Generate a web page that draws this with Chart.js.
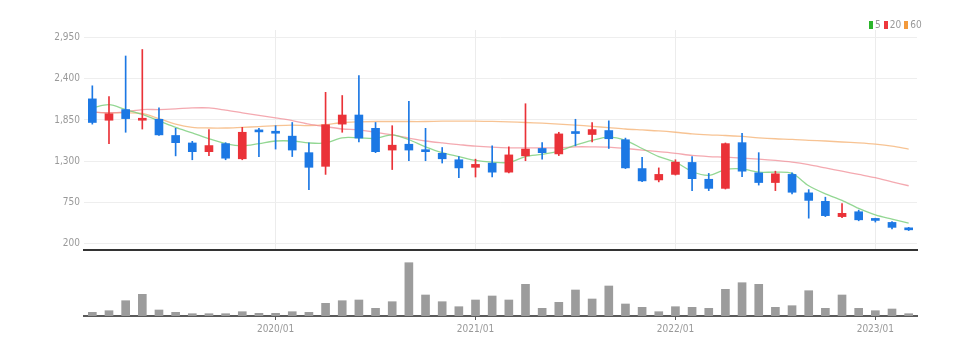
<!DOCTYPE html>
<html>
<head>
<meta charset="utf-8">
<script src="https://cdn.jsdelivr.net/npm/chart.js@4.4.1/dist/chart.umd.min.js"></script>
<style>
	body { margin: 0; background: #fff; }
	#wrap { position: relative; width: 980px; height: 355px; overflow: hidden; }
	#wrap canvas { position: absolute; left: 0; }
	#legend {
		position: absolute; left: 869px; top: 19px;
		display: flex; align-items: center;
		font: 10px 'Liberation Sans Narrow', 'DejaVu Sans Condensed', sans-serif; color: #999;
	}
	#legend i { display: inline-block; width: 4px; height: 8px; margin-right: 2px; }
	#legend span { margin-right: 3px; }
</style>
</head>
<body>
<div id="wrap">
	<canvas id="priceChart" width="980" height="260" style="top:0"></canvas>
	<canvas id="volumeChart" width="980" height="99" style="top:256px"></canvas>
	<div id="legend"></div>
</div>
<script>
'use strict';

// monthly candles
const labels = [
	'2019/02', '2019/03', '2019/04', '2019/05', '2019/06', '2019/07', '2019/08', '2019/09', '2019/10', '2019/11', '2019/12',
	'2020/01', '2020/02', '2020/03', '2020/04', '2020/05', '2020/06', '2020/07', '2020/08', '2020/09', '2020/10', '2020/11', '2020/12',
	'2021/01', '2021/02', '2021/03', '2021/04', '2021/05', '2021/06', '2021/07', '2021/08', '2021/09', '2021/10', '2021/11', '2021/12',
	'2022/01', '2022/02', '2022/03', '2022/04', '2022/05', '2022/06', '2022/07', '2022/08', '2022/09', '2022/10', '2022/11', '2022/12',
	'2023/01', '2023/02', '2023/03'
];

const opens = [2132, 1846, 1989, 1846, 1859, 1642, 1542, 1425, 1533, 1330, 1700,
	1685, 1633, 1412, 1229, 1794, 1916, 1738, 1447, 1525, 1447, 1403, 1317,
	1216, 1272, 1151, 1369, 1468, 1395, 1676, 1655, 1708, 1585, 1199, 1047,
	1121, 1281, 1056, 934, 1546, 1142, 1012, 1121, 874, 760, 556, 621,
	520, 478, 405];
const highs = [2307, 2164, 2706, 2793, 2011, 1738, 1564, 1721, 1546, 1751, 1738,
	1773, 1816, 1542, 2220, 2177, 2445, 1816, 1773, 2098, 1738, 1481, 1360,
	1325, 1503, 1490, 2067, 1546, 1685, 1859, 1816, 1838, 1607, 1351, 1208,
	1317, 1360, 1134, 1542, 1672, 1412, 1164, 1142, 917, 816, 730, 643,
	535, 491, 412];
const lows = [1794, 1533, 1685, 1728, 1642, 1369, 1317, 1373, 1317, 1317, 1360,
	1460, 1360, 917, 1121, 1685, 1555, 1412, 1186, 1304, 1304, 1273, 1077,
	1086, 1086, 1142, 1304, 1325, 1373, 1503, 1555, 1468, 1199, 1025, 1021,
	1112, 904, 904, 925, 1090, 978, 904, 861, 535, 556, 543, 500,
	483, 391, 369];
const closes = [1816, 1933, 1868, 1868, 1650, 1546, 1425, 1507, 1338, 1685, 1690,
	1672, 1447, 1216, 1786, 1916, 1607, 1425, 1512, 1447, 1425, 1330, 1208,
	1255, 1151, 1382, 1460, 1412, 1663, 1668, 1721, 1598, 1208, 1034, 1121,
	1285, 1064, 934, 1533, 1164, 1012, 1129, 882, 773, 569, 600, 513,
	505, 412, 379];

// moving averages as drawn (they start before the first visible month)
const ma5 = [2011, 2054, 1989, 1924, 1838, 1751, 1676, 1598, 1533, 1503, 1533,
	1568, 1568, 1542, 1542, 1611, 1611, 1603, 1650, 1585, 1490, 1412, 1360,
	1308, 1285, 1281, 1360, 1390, 1434, 1512, 1577, 1620, 1577, 1468, 1360,
	1285, 1160, 1108, 1186, 1194, 1151, 1151, 1134, 969, 861, 773, 665,
	578, 522, 470];
const ma20 = [1955, 1946, 1959, 1989, 1989, 1998, 2011, 2011, 1981, 1946, 1911,
	1877, 1842, 1794, 1760, 1729, 1716, 1685, 1650, 1607, 1568, 1542, 1520,
	1499, 1485, 1477, 1477, 1477, 1477, 1490, 1490, 1486, 1468, 1447, 1425,
	1403, 1375, 1360, 1351, 1338, 1325, 1308, 1285, 1251, 1208, 1164, 1121,
	1077, 1021, 969];
const ma60 = [1955, 1946, 1946, 1937, 1868, 1794, 1751, 1742, 1742, 1751, 1760,
	1773, 1780, 1773, 1786, 1816, 1825, 1829, 1829, 1829, 1829, 1833, 1833,
	1833, 1830, 1825, 1816, 1807, 1794, 1781, 1764, 1747, 1729, 1716, 1703,
	1685, 1663, 1650, 1642, 1629, 1611, 1598, 1590, 1577, 1568, 1555, 1542,
	1525, 1499, 1460];

const volumes = [37, 53, 153, 217, 60, 37, 23, 23, 23, 43, 27,
	27, 43, 37, 127, 153, 160, 77, 143, 533, 210, 143, 93,
	160, 200, 160, 317, 77, 137, 260, 170, 300, 120, 87, 43,
	93, 87, 77, 267, 333, 317, 87, 103, 253, 77, 210, 77,
	53, 70, 23];

const yTicks = [200, 750, 1300, 1850, 2400, 2950];

const RED = '#ea3238';
const BLUE = '#1c78e4';
const FONT = "'Liberation Sans Narrow', 'DejaVu Sans Condensed', sans-serif";

const maLines = [
	{ label: '5', data: ma5, line: 'rgba(120, 205, 120, 0.8)', key: '#2bb52b' },
	{ label: '20', data: ma20, line: 'rgba(240, 140, 150, 0.75)', key: '#ee373c' },
	{ label: '60', data: ma60, line: 'rgba(245, 180, 120, 0.8)', key: '#f39a3c' }
];

const isJan = i => labels[i] && labels[i].endsWith('/01');
const candleColors = opens.map((o, i) => closes[i] >= o ? RED : BLUE);

new Chart(document.getElementById('priceChart'), {
	type: 'bar',
	data: {
		labels: labels,
		datasets: [
			...maLines.map(m => ({
				type: 'line',
				label: m.label,
				data: m.data,
				borderColor: m.line,
				backgroundColor: m.key,
				borderWidth: 1.3,
				pointRadius: 0,
				tension: 0.3,
				order: 3
			})),
			{
				label: 'wick',
				data: lows.map((l, i) => [l, highs[i]]),
				backgroundColor: candleColors,
				barThickness: 1,
				grouped: false,
				order: 1
			},
			{
				label: 'body',
				data: opens.map((o, i) => [o, closes[i]]),
				backgroundColor: candleColors,
				barThickness: 8,
				minBarLength: 2,
				grouped: false,
				order: 0
			}
		]
	},
	options: {
		responsive: false,
		animation: false,
		layout: { padding: { top: 30, bottom: 4, left: 0, right: 63 } },
		plugins: { legend: { display: false }, tooltip: { enabled: false } },
		scales: {
			x: {
				ticks: { display: false },
				grid: {
					offset: false,
					drawTicks: false,
					color: c => isJan(c.index) ? '#ececec' : 'rgba(0,0,0,0)'
				},
				border: { color: '#333', width: 2 },
				afterFit: s => { s.height = 0; }
			},
			y: {
				min: 109,
				max: 3054,
				afterBuildTicks: s => { s.ticks = yTicks.map(v => ({ value: v })); },
				ticks: {
					callback: v => v.toLocaleString('en-US'),
					color: '#999',
					font: { family: FONT, size: 10 },
					padding: 4
				},
				grid: { color: '#eeeeee', drawTicks: false },
				border: { display: false },
				afterFit: s => { s.width = 84; }
			}
		}
	}
});

new Chart(document.getElementById('volumeChart'), {
	type: 'bar',
	data: {
		labels: labels,
		datasets: [{
			label: 'volume',
			data: volumes,
			backgroundColor: '#9c9c9c',
			barThickness: 8
		}]
	},
	options: {
		responsive: false,
		animation: false,
		layout: { padding: { top: 2, bottom: 0, left: 84, right: 63 } },
		plugins: { legend: { display: false }, tooltip: { enabled: false } },
		scales: {
			x: {
				ticks: {
					autoSkip: false,
					maxRotation: 0,
					callback: (v, i) => isJan(i) ? labels[i] : '',
					color: '#999',
					font: { family: FONT, size: 10 },
					padding: 3
				},
				grid: {
					offset: false,
					drawOnChartArea: false,
					tickLength: 4,
					color: c => isJan(c.index) ? '#555' : 'rgba(0,0,0,0)'
				},
				border: { color: '#5a5a5a', width: 2 },
				afterFit: s => { s.height = 39; }
			},
			y: { display: false, min: 0, max: 580 }
		}
	}
});

// legend: only the moving averages
const legendEl = document.getElementById('legend');
maLines.forEach(m => {
	const box = document.createElement('i');
	box.style.background = m.key;
	const txt = document.createElement('span');
	txt.textContent = m.label;
	legendEl.appendChild(box);
	legendEl.appendChild(txt);
});
</script>
</body>
</html>
